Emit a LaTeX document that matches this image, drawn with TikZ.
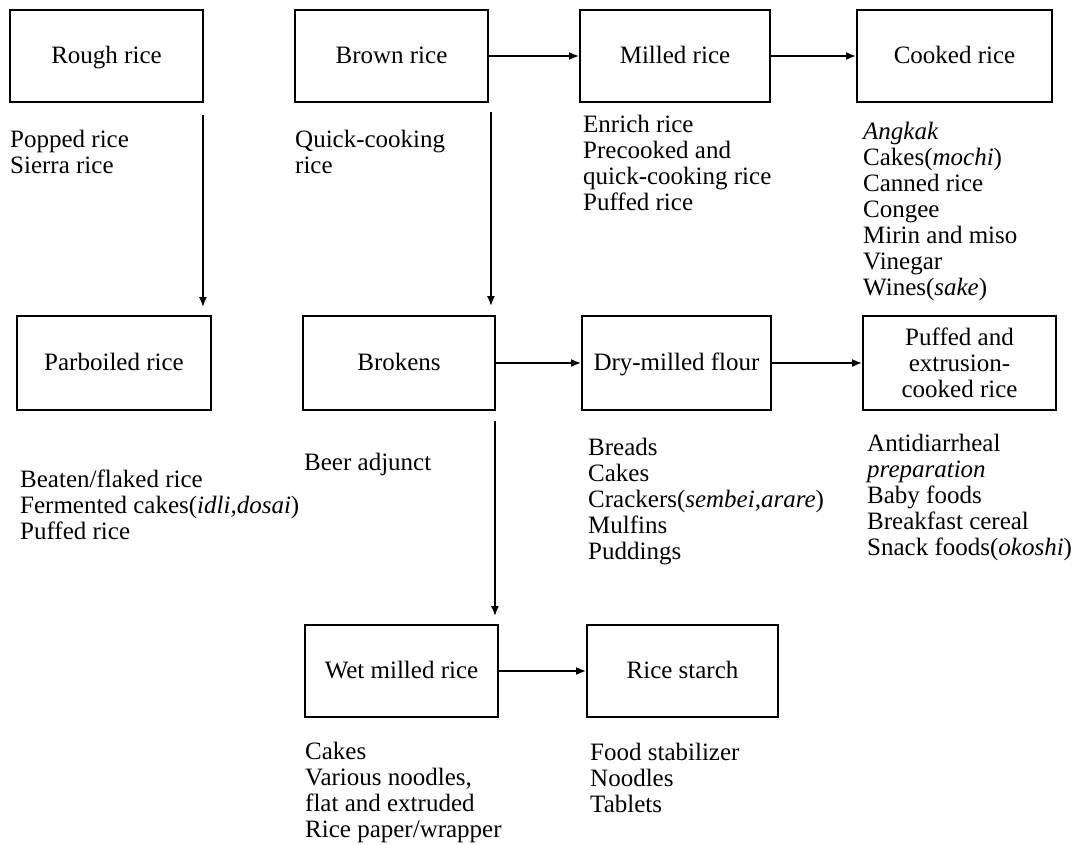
\documentclass[tikz,border=0pt]{standalone}
\usepackage{fontspec}
\setmainfont{Liberation Serif}
\usetikzlibrary{arrows.meta}
\begin{document}
\begin{tikzpicture}[x=1pt,y=-1pt,
  every node/.style={font=\fontsize{25}{26}\selectfont},
  box/.style={draw, line width=1.9pt, minimum height=92pt, inner sep=2pt, align=center},
  one/.style={text height=17pt, text depth=3pt},
  list/.style={anchor=north west, inner sep=0pt, align=left},
  arr/.style={line width=1.7pt, -{Latex[length=10pt,width=8pt]}}]
\useasboundingbox (0,0) rectangle (1082,844);
% row 1
\node[box, one, minimum width=193pt] (rough)  at (106.5,56) {Rough rice};
\node[box, one, minimum width=193pt] (brown)  at (391.5,56) {Brown rice};
\node[box, one, minimum width=190pt] (milled) at (675,56)   {Milled rice};
\node[box, one, minimum width=195pt] (cooked) at (954.5,56) {Cooked rice};
% row 2
\node[box, one, minimum width=194pt, minimum height=94pt] (parb)    at (114,363)   {Parboiled rice};
\node[box, one, minimum width=192pt, minimum height=94pt] (brokens) at (399,363)   {Brokens};
\node[box, one, minimum width=189pt, minimum height=94pt] (dry)     at (676.5,363) {Dry-milled flour};
\node[box, minimum width=193pt, minimum height=94pt] (puffed)  at (959.5,363) {Puffed and\\extrusion-\\cooked rice};
% row 3
\node[box, one, minimum width=193pt] (wet)    at (401.5,671) {Wet milled rice};
\node[box, one, minimum width=191pt] (starch) at (682.5,671) {Rice starch};
% lists
\node[list] (lrough)  at (10,129)  {\strut Popped rice\\Sierra rice};
\node[list] (lbrown)  at (295,129) {\strut Quick-cooking\\rice};
\node[list] (lmilled) at (583,114) {\strut Enrich rice\\Precooked and\\quick-cooking rice\\Puffed rice};
\node[list] (lcooked) at (863,121) {\strut\textit{Angkak}\\Cakes(\textit{mochi})\\Canned rice\\Congee\\Mirin and miso\\Vinegar\\Wines(\textit{sake})};
\node[list] (lparb)   at (20,469)  {\strut Beaten/flaked rice\\Fermented cakes(\textit{idli,dosai})\\Puffed rice};
\node[list] (lbrok)   at (304,452) {\strut Beer adjunct};
\node[list] (ldry)    at (588,437) {\strut Breads\\Cakes\\Crackers(\textit{sembei,arare})\\Mulfins\\Puddings};
\node[list] (lpuffed) at (867,433) {\strut Antidiarrheal\\\textit{preparation}\\Baby foods\\Breakfast cereal\\Snack foods(\textit{okoshi})};
\node[list] (lwet)    at (305,741) {\strut Cakes\\Various noodles,\\flat and extruded\\Rice paper/wrapper};
\node[list] (lstarch) at (590,742) {\strut Food stabilizer\\Noodles\\Tablets};
% connectors
\draw[arr] (brown.east) -- (milled.west);
\draw[arr] (milled.east) -- (cooked.west);
\draw[arr] (brokens.east) -- (dry.west);
\draw[arr] (dry.east) -- (puffed.west);
\draw[arr] (wet.east) -- (starch.west);
\draw[arr, shorten >=8pt] ([xshift=-1pt,yshift=-12pt]rough.south east) -- ([xshift=-1pt]rough.south east |- parb.north);
\draw[arr, shorten >=9pt] ([xshift=2pt,yshift=-9pt]brown.south east) -- ([xshift=2pt]brown.south east |- brokens.north);
\draw[arr, shorten >=8pt] ([xshift=-1pt,yshift=-10pt]brokens.south east) -- ([xshift=-1pt]brokens.south east |- wet.north);
\end{tikzpicture}
\end{document}
